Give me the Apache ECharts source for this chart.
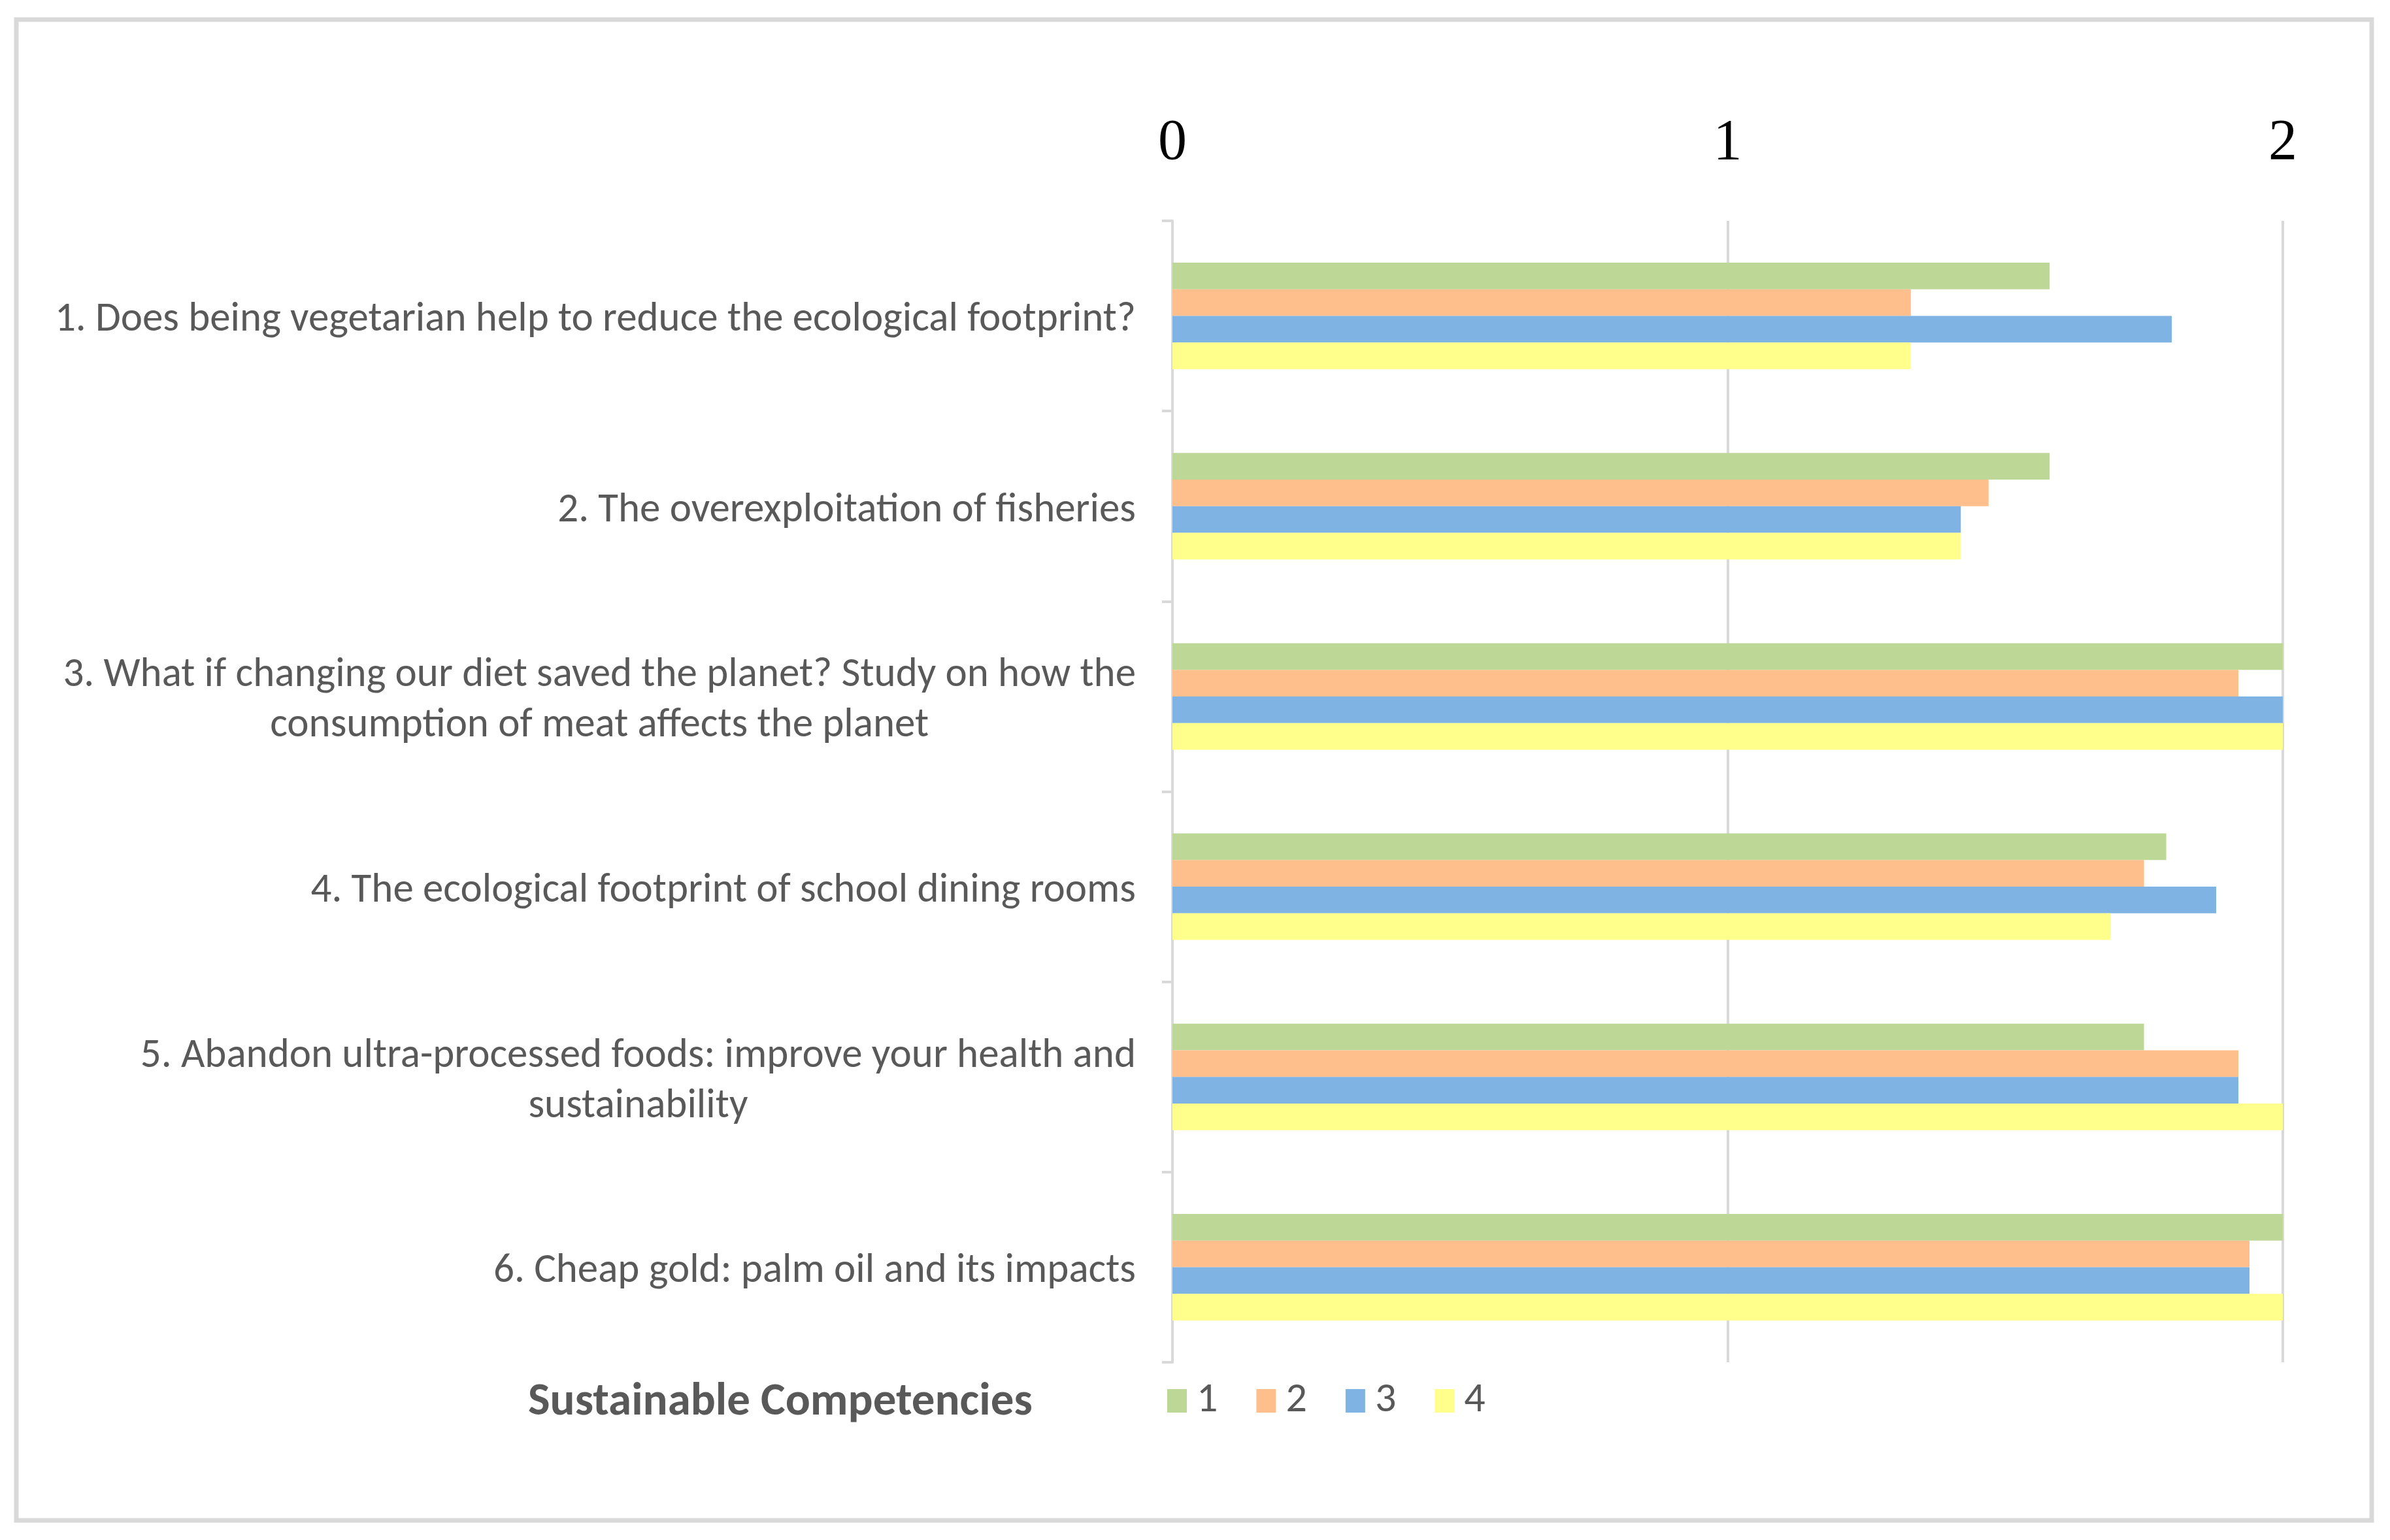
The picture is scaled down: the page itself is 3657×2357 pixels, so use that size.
<!DOCTYPE html>
<html>
<head>
<meta charset="utf-8">
<script src="https://cdn.jsdelivr.net/npm/echarts@6/dist/echarts.min.js"></script>
<style>
html,body{margin:0;padding:0;background:#fff;}
#chart{width:3657px;height:2357px;}
</style>
</head>
<body>
<div id="chart"></div>
<script>
const categories = [
  "1. Does being vegetarian help to reduce the ecological footprint?",
  "2. The overexploitation of fisheries",
  "3. What if changing our diet saved the planet? Study on how the\nconsumption of meat affects the planet",
  "4. The ecological footprint of school dining rooms",
  "5. Abandon ultra-processed foods: improve your health and\nsustainability",
  "6. Cheap gold: palm oil and its impacts"
];
const seriesNames = ["1", "2", "3", "4"];
const values1 = [1.58, 1.58, 2.00, 1.79, 1.75, 2.00];
const values2 = [1.33, 1.47, 1.92, 1.75, 1.92, 1.94];
const values3 = [1.80, 1.42, 2.00, 1.88, 1.92, 1.94];
const values4 = [1.33, 1.42, 2.00, 1.69, 2.00, 2.00];
const xTicks = [0, 1, 2];
const colors = ["#BDD797", "#FFBF8C", "#7EB3E3", "#FFFF8C"];

const labelFont = "Carlito, Lato, 'Open Sans', sans-serif";
const chart = echarts.init(document.getElementById('chart'), null, {renderer: 'canvas'});
const allValues = [values1, values2, values3, values4];

chart.setOption({
  backgroundColor: '#ffffff',
  animation: false,
  title: {
    text: 'Sustainable Competencies',
    left: 803,
    top: 2107,
    textStyle: {fontFamily: labelFont, fontWeight: 'bold', fontSize: 71, color: '#595959'}
  },
  legend: {
    data: seriesNames,
    left: 1781,
    top: 2107,
    itemWidth: 30,
    itemHeight: 36,
    itemGap: 59,
    icon: 'rect',
    textStyle: {fontFamily: labelFont, fontSize: 64, color: '#595959', padding: [0, 0, 0, 10]}
  },
  grid: {left: 1794, right: 164, top: 338, bottom: 272, containLabel: false},
  xAxis: {
    type: 'value',
    position: 'top',
    min: xTicks[0],
    max: xTicks[xTicks.length - 1],
    interval: 1,
    axisLine: {show: false},
    axisTick: {show: false},
    splitLine: {show: true, lineStyle: {color: '#d9d9d9', width: 4}},
    axisLabel: {
      margin: 74,
      fontFamily: "'Liberation Serif', 'Times New Roman', serif",
      fontSize: 88,
      color: '#000000'
    }
  },
  yAxis: {
    type: 'category',
    inverse: true,
    data: categories,
    axisLine: {show: true, lineStyle: {color: '#d9d9d9', width: 4}},
    axisTick: {show: true, length: 16, lineStyle: {color: '#d9d9d9', width: 4}},
    axisLabel: {
      margin: 56,
      align: 'right',
      fontFamily: labelFont,
      fontSize: 63,
      color: '#595959',
      lineHeight: 77,
      padding: [14, 0, 0, 0],
      formatter: function (v) {
        return v.split('\n').map(function (l) { return '{c|' + l + '}'; }).join('\n');
      },
      rich: {
        c: {align: 'center', fontFamily: labelFont, fontSize: 63, color: '#595959', lineHeight: 77}
      }
    }
  },
  graphic: [{
    type: 'rect',
    shape: {x: 25, y: 30, width: 3604, height: 2297},
    style: {fill: 'none', stroke: '#d9d9d9', lineWidth: 7},
    silent: true
  }],
  series: seriesNames.map(function (name, i) {
    return {
      name: name,
      type: 'bar',
      data: allValues[i],
      barGap: '0%',
      barCategoryGap: '44%',
      itemStyle: {color: colors[i]}
    };
  })
});
</script>
</body>
</html>
